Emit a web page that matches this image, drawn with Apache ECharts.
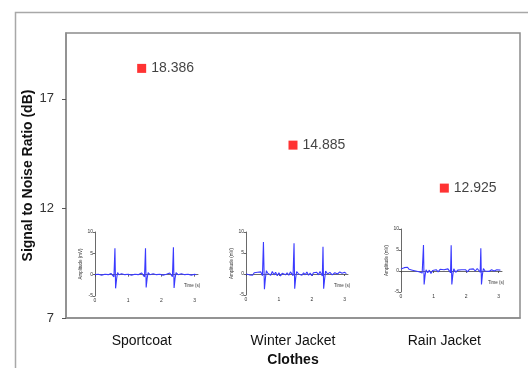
<!DOCTYPE html>
<html>
<head>
<meta charset="utf-8">
<script src="https://cdn.jsdelivr.net/npm/echarts@6/dist/echarts.min.js"></script>
<style>
  html, body { margin: 0; padding: 0; background: #fff; }
  #chart { width: 528px; height: 368px; }
</style>
</head>
<body>
<div id="chart"></div>
<script>
// Données principales
const clothes = ['Sportcoat', 'Winter Jacket', 'Rain Jacket'];
const snrValues = [18.386, 14.885, 12.925];
const yTicks = [7, 12, 17];

// Signaux ECG des encarts (temps en s, amplitude en mV)
const sigSportcoat = [
  [0,0],[0.1,0.1],[0.2,-0.1],[0.3,0.1],[0.4,0],[0.48,0.3],[0.53,0],[0.57,-0.5],[0.6,6.2],[0.62,-3.2],
  [0.65,-1],[0.68,0.5],[0.72,0],[0.8,0.2],[0.9,0],[1.0,0.1],[1.1,-0.1],[1.2,0.1],[1.3,0],[1.4,0.4],
  [1.45,0.1],[1.49,-0.5],[1.52,6.2],[1.54,-3],[1.57,-0.8],[1.6,0.5],[1.65,0],[1.75,0.2],[1.85,0],[1.95,0.1],
  [2.05,-0.1],[2.15,0.1],[2.25,0.4],[2.3,0.1],[2.33,-0.5],[2.36,6.4],[2.38,-3.1],[2.41,-0.8],[2.44,0.5],[2.5,0],
  [2.6,0.2],[2.7,0],[2.8,0.1],[2.9,-0.1],[3.0,0.1],[3.05,0]
];
const sigWinter = [
  [0,0],[0.05,0.3],[0.1,-0.2],[0.15,0.2],[0.2,-0.3],[0.25,0.3],[0.3,-0.1],[0.35,0.4],[0.4,0],[0.45,0.5],
  [0.5,-0.4],[0.53,7.6],[0.56,-3.6],[0.59,-1],[0.62,0.8],[0.66,0.2],[0.7,0.5],[0.75,-0.3],[0.8,0.6],[0.85,-0.2],
  [0.9,0.4],[0.95,-0.4],[1.0,0.3],[1.05,-0.5],[1.1,0.2],[1.15,0.6],[1.2,-0.2],[1.25,0.3],[1.3,-0.3],[1.35,0.5],
  [1.4,0.8],[1.43,-0.4],[1.46,7.3],[1.48,-3.5],[1.51,-1],[1.54,0.6],[1.6,0],[1.65,0.4],[1.7,-0.3],[1.75,0.3],
  [1.8,-0.2],[1.85,0.5],[1.9,-0.3],[1.95,0.2],[2.0,-0.4],[2.05,0.3],[2.1,0.1],[2.15,0.4],[2.2,-0.2],[2.25,0.6],
  [2.3,0.9],[2.32,-0.5],[2.34,6.5],[2.36,-3.5],[2.39,-1.2],[2.42,0.7],[2.48,0],[2.55,0.4],[2.62,-0.2],[2.7,0.3],
  [2.78,0],[2.85,0.5],[2.92,0.2],[3.0,0.4],[3.05,0.1]
];
const sigRain = [
  [0,0.5],[0.05,0.3],[0.1,0.8],[0.15,0.5],[0.2,0.9],[0.25,0.4],[0.3,0.6],[0.35,0.2],[0.4,0.4],[0.45,0],
  [0.5,0.3],[0.55,-0.2],[0.6,0.2],[0.65,-0.5],[0.69,6.2],[0.71,-3.2],[0.74,-1],[0.77,0.3],[0.82,-0.4],[0.87,0.2],
  [0.92,-0.6],[0.97,0.1],[1.02,-0.3],[1.08,0.3],[1.14,-0.2],[1.2,0.4],[1.26,0],[1.32,0.3],[1.38,-0.1],[1.44,0.5],
  [1.5,0.1],[1.52,-0.4],[1.54,6.1],[1.56,-3.2],[1.59,-1],[1.62,0.5],[1.68,-0.3],[1.74,0.2],[1.8,-0.1],[1.86,0.3],
  [1.92,0],[1.98,0.3],[2.04,-0.2],[2.1,0.4],[2.16,0.1],[2.22,0.5],[2.28,0],[2.34,0.6],[2.4,0.3],[2.43,-0.3],
  [2.45,5.4],[2.47,-3.2],[2.5,-0.8],[2.53,0.6],[2.58,0],[2.64,0.4],[2.7,-0.1],[2.78,0.3],[2.86,0],[2.94,0.3],
  [3.0,0.1],[3.05,0.2]
];
const insetTimeTicks = [0, 1, 2, 3];

const chart = echarts.init(document.getElementById('chart'));
const font = 'Liberation Sans, Arial, sans-serif';
const frameColor = '#8c8c8c';

// Encarts : position des grilles
const insetGrids = [
  { left: 95, top: 232, width: 103, height: 64, outerBoundsMode: 'none' },
  { left: 246, top: 232, width: 102, height: 63, outerBoundsMode: 'none' },
  { left: 401, top: 229, width: 101, height: 63, outerBoundsMode: 'none' }
];
const signals = [sigSportcoat, sigWinter, sigRain];

function insetXAxis(i) {
  return {
    type: 'value', gridIndex: i + 1, min: 0, max: 3.1, interval: 1,
    name: 'Time (s)', nameLocation: 'end', nameGap: -14,
    nameTextStyle: { fontSize: 4.5, color: '#333', fontFamily: font, verticalAlign: 'top', padding: [9, 0, 0, 0] },
    axisLine: { lineStyle: { color: '#444', width: 0.8 } },
    axisTick: { customValues: insetTimeTicks, length: 2, lineStyle: { color: '#444', width: 0.8 } },
    axisLabel: { customValues: insetTimeTicks, fontSize: 5, color: '#333', margin: 2, fontFamily: font },
    splitLine: { show: false }
  };
}
function insetYAxis(i) {
  return {
    type: 'value', gridIndex: i + 1, min: -5, max: 10, interval: 5,
    name: 'Amplitude (mV)', nameLocation: 'middle', nameGap: 9,
    nameTextStyle: { fontSize: 4.5, color: '#333', fontFamily: font },
    axisLine: { show: true, lineStyle: { color: '#444', width: 0.8 } },
    axisTick: { show: true, length: 2, lineStyle: { color: '#444', width: 0.8 } },
    axisLabel: { fontSize: 5, color: '#333', margin: 2, fontFamily: font },
    splitLine: { show: false }
  };
}

const option = {
  backgroundColor: '#fff',
  animation: false,
  graphic: [{
    type: 'rect', left: 13, top: 10, z: -1,
    shape: { width: 600, height: 400 },
    style: { fill: 'none', stroke: '#a8a8a8', lineWidth: 1.5 }
  }],
  grid: [
    { left: 66, top: 33, right: 8, bottom: 50, show: true, borderColor: frameColor, borderWidth: 1.5, outerBoundsMode: 'none' }
  ].concat(insetGrids),
  xAxis: [{
    type: 'category', gridIndex: 0, data: clothes,
    name: 'Clothes', nameLocation: 'middle', nameGap: 35, nameMoveOverlap: false,
    nameTextStyle: { fontSize: 14, fontWeight: 'bold', color: '#111', fontFamily: font },
    axisLine: { lineStyle: { color: frameColor, width: 1.5 } },
    axisTick: { length: 4, lineStyle: { color: '#555', width: 1 } },
    axisLabel: { fontSize: 14, color: '#111', margin: 16, fontFamily: font }
  }].concat([0, 1, 2].map(insetXAxis)),
  yAxis: [{
    type: 'value', gridIndex: 0, min: 7, max: 20,
    name: 'Signal to Noise Ratio (dB)', nameLocation: 'middle', nameGap: 31, nameMoveOverlap: false,
    nameTextStyle: { fontSize: 14, fontWeight: 'bold', color: '#111', fontFamily: font },
    axisLine: { show: true, lineStyle: { color: frameColor, width: 1.5 } },
    axisTick: { show: true, length: 4, customValues: yTicks, lineStyle: { color: '#555', width: 1 } },
    axisLabel: { customValues: yTicks, fontSize: 13, color: '#333', margin: 12, fontFamily: font },
    splitLine: { show: false }
  }].concat([0, 1, 2].map(insetYAxis)),
  series: [{
    type: 'scatter', xAxisIndex: 0, yAxisIndex: 0,
    data: clothes.map((c, i) => [c, snrValues[i]]),
    symbol: 'rect', symbolSize: 9,
    itemStyle: { color: '#ff0000' },
    label: {
      show: true, position: 'right', distance: 5,
      formatter: p => p.value[1].toFixed(3),
      fontSize: 14, color: '#111', fontFamily: font
    },
    z: 5
  }].concat(signals.map((sig, i) => ({
    type: 'line', xAxisIndex: i + 1, yAxisIndex: i + 1,
    data: sig, showSymbol: false,
    lineStyle: { color: '#3a3aff', width: 1.1 }
  })))
};

chart.setOption(option);
</script>
</body>
</html>
